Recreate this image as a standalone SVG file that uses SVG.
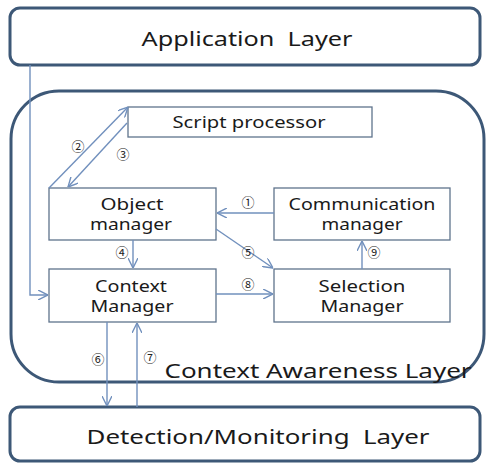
<svg xmlns="http://www.w3.org/2000/svg" width="488" height="463" viewBox="0 0 488 463">
<style>
.layer{fill:#fff;stroke:#3d5877;stroke-width:3}
.box{fill:#fff;stroke:#5f738c;stroke-width:1.3}
.t{font-family:"Noto Sans","Open Sans",sans-serif;fill:#1a1a1a;text-anchor:middle}
.big{font-size:20px}
.mid{font-size:16px}
.num{font-family:"Noto Sans CJK KR","DejaVu Sans",sans-serif;font-size:13px;fill:#222;text-anchor:middle}
.c{fill:none;stroke:#7190bd;stroke-width:1.4}
</style>
<defs>
<marker id="a" viewBox="0 0 10 10" refX="10" refY="5" markerWidth="10" markerHeight="10" markerUnits="userSpaceOnUse" orient="auto">
<path d="M0,0 L10,5 L0,10" fill="none" stroke="#7190bd" stroke-width="1.4"/>
</marker>
</defs>
<rect width="488" height="463" fill="#fff"/>
<g id="application-layer">
<rect class="layer" x="10" y="8" width="470" height="57" rx="10"/>
<text class="t big" x="247" y="46" textLength="211" lengthAdjust="spacingAndGlyphs">Application&#160; Layer</text>
</g>
<g id="context-awareness-layer">
<rect class="layer" x="11" y="91" width="473" height="291" rx="48"/>
</g>
<g id="detection-layer">
<rect class="layer" x="10" y="407" width="470" height="54" rx="10"/>
<text class="t big" x="258" y="444" textLength="343" lengthAdjust="spacingAndGlyphs">Detection/Monitoring&#160; Layer</text>
</g>
<g id="script-processor">
<rect class="box" x="128" y="107" width="244" height="30"/>
<text class="t mid" x="249" y="128" textLength="153" lengthAdjust="spacingAndGlyphs">Script processor</text>
</g>
<g id="object-manager">
<rect class="box" x="49" y="188" width="167" height="52"/>
<text class="t mid" x="132" y="210" textLength="63" lengthAdjust="spacingAndGlyphs">Object</text>
<text class="t mid" x="131" y="230" textLength="82" lengthAdjust="spacingAndGlyphs">manager</text>
</g>
<g id="communication-manager">
<rect class="box" x="274" y="188" width="176" height="52"/>
<text class="t mid" x="362" y="210" textLength="147" lengthAdjust="spacingAndGlyphs">Communication</text>
<text class="t mid" x="362" y="230" textLength="81" lengthAdjust="spacingAndGlyphs">manager</text>
</g>
<g id="context-manager">
<rect class="box" x="49" y="269" width="167" height="53"/>
<text class="t mid" x="131" y="292" textLength="72" lengthAdjust="spacingAndGlyphs">Context</text>
<text class="t mid" x="132" y="312" textLength="83" lengthAdjust="spacingAndGlyphs">Manager</text>
</g>
<g id="selection-manager">
<rect class="box" x="274" y="269" width="176" height="53"/>
<text class="t mid" x="362" y="292" textLength="87" lengthAdjust="spacingAndGlyphs">Selection</text>
<text class="t mid" x="362" y="312" textLength="83" lengthAdjust="spacingAndGlyphs">Manager</text>
</g>
<text class="t big" x="318" y="378" textLength="307" lengthAdjust="spacingAndGlyphs">Context Awareness Layer</text>
<g id="connectors">
<path class="c" d="M30,65 L30,295 L48,295" marker-end="url(#a)"/>
<path class="c" d="M49,188 L128,107" marker-end="url(#a)"/>
<path class="c" d="M127,123 L68,187" marker-end="url(#a)"/>
<path class="c" d="M274,213 L217,213" marker-end="url(#a)"/>
<path class="c" d="M216,229 L273,268" marker-end="url(#a)"/>
<path class="c" d="M133,240 L133,268" marker-end="url(#a)"/>
<path class="c" d="M362,269 L362,241" marker-end="url(#a)"/>
<path class="c" d="M216,294 L273,294" marker-end="url(#a)"/>
<path class="c" d="M107,322 L107,406" marker-end="url(#a)"/>
<path class="c" d="M137,407 L137,323" marker-end="url(#a)"/>
<text class="num" x="78" y="151">②</text>
<text class="num" x="123" y="159">③</text>
<text class="num" x="248" y="207">①</text>
<text class="num" x="248" y="257">⑤</text>
<text class="num" x="122" y="257">④</text>
<text class="num" x="374" y="257">⑨</text>
<text class="num" x="248" y="289">⑧</text>
<text class="num" x="98" y="364">⑥</text>
<text class="num" x="150" y="362">⑦</text>
</g>
</svg>
